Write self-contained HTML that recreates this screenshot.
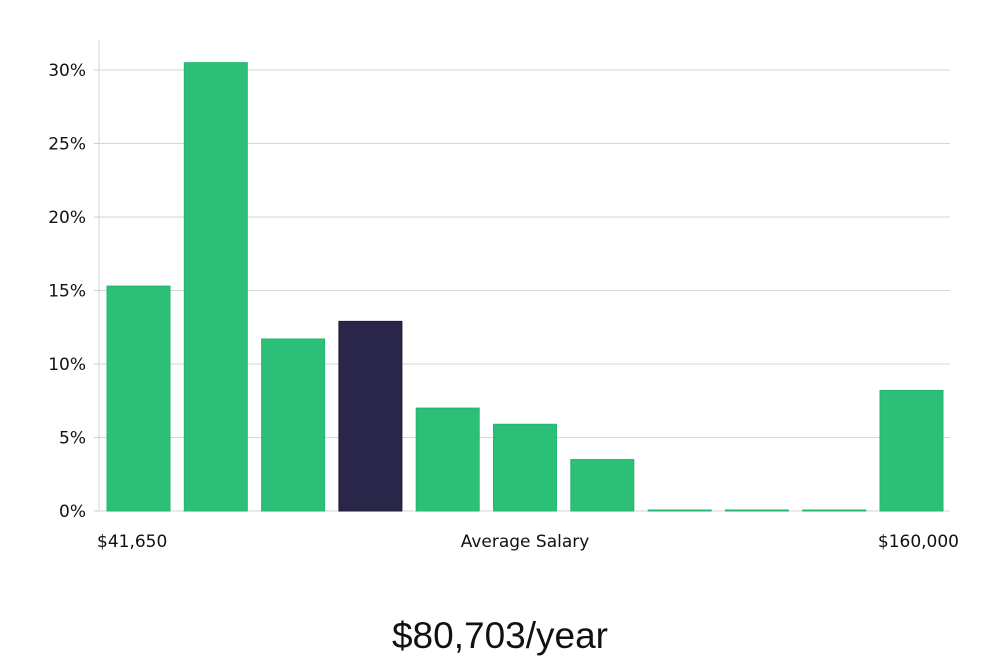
<!DOCTYPE html>
<html><head><meta charset="utf-8"><style>
html,body{margin:0;padding:0;background:#fff;width:1000px;height:660px;overflow:hidden}
svg{display:block}
text{font-family:"DejaVu Sans","Liberation Sans",sans-serif;fill:#111}
</style></head><body>
<svg id="chart" width="1000" height="660"></svg>
<script>
const categories=["b1","b2","b3","b4","b5","b6","b7","b8","b9","b10","b11"];
const values=[15.3,30.5,11.7,12.9,7.0,5.9,3.5,0,0,0,8.2];
const highlight=[false,false,false,true,false,false,false,false,false,false,false];
const yTicks=[0,5,10,15,20,25,30];
const yTickLabels=["0%","5%","10%","15%","20%","25%","30%"];
const xLabels=["$41,650","Average Salary","$160,000"];
const title="$80,703/year";

const NS="http://www.w3.org/2000/svg";
const svg=document.getElementById('chart');
const X0=99,X1=950,Y0=511,Y30=70;
const y=v=>Y0-(v/30)*(Y0-Y30);
const pitch=77.3,bw=63,bx0=107;
const x=i=>bx0+i*pitch;
function mk(t,a){const e=document.createElementNS(NS,t);for(const k in a)e.setAttribute(k,a[k]);svg.appendChild(e);return e;}

yTicks.forEach((t,i)=>{
 const g=mk('line',{x1:X0,x2:X1,y1:y(t),y2:y(t),stroke:'#d6d6d6','stroke-width':1});
 
 
 const tk=mk('line',{x1:X0-5,x2:X0,y1:y(t),y2:y(t),stroke:'#ccc','stroke-width':1});
 
 
 const l=mk('text',{x:X0-13,y:y(t)+6,'text-anchor':'end','font-size':17});
 l.textContent=yTickLabels[i];
 
 
});
const ax=mk('line',{x1:X0,x2:X0,y1:40,y2:Y0,stroke:'#d6d6d6','stroke-width':1});



values.forEach((v,i)=>{
 const h=Math.max(Y0-y(v),1);
 const dark=highlight[i];
 const r=mk('rect',{x:x(i),y:Y0-h,width:bw,height:h,fill:dark?'#29264a':'#2bbf77',stroke:dark?'#1c1a38':'#27b56f','stroke-width':1});
 
 
});

const xl=[[97,'start'],[525,'middle'],[959,'end']];
xLabels.forEach((s,i)=>{
 const t=mk('text',{x:xl[i][0],y:547,'text-anchor':xl[i][1],'font-size':17});
 t.textContent=s;
 
 
});
const tt=mk('text',{x:500,y:648,'text-anchor':'middle','font-size':37});
tt.setAttribute('style','font-family:"Liberation Sans Narrow","Liberation Sans",sans-serif;font-weight:300');
tt.textContent=title;


</script>
</body></html>
